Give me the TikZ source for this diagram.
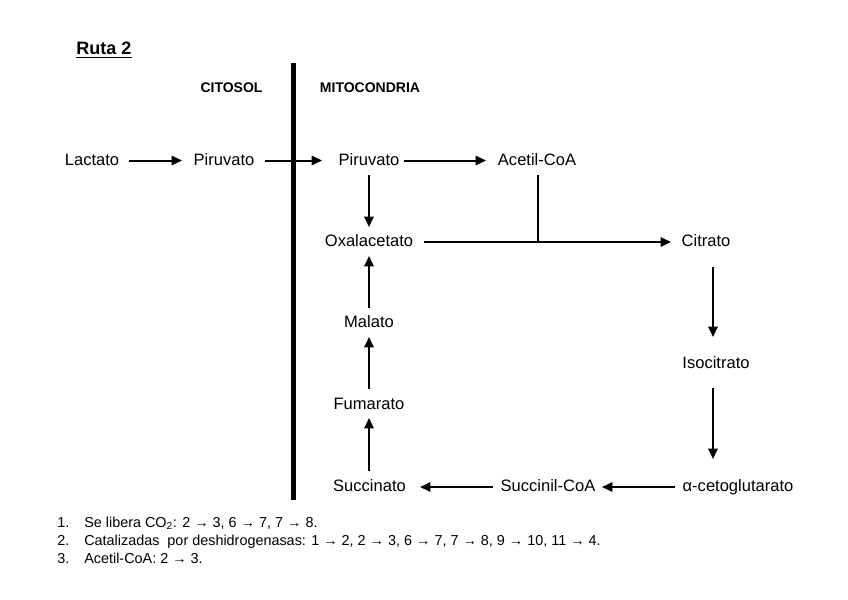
\documentclass[tikz,border=0pt]{standalone}
\usepackage{fontspec}
\setmainfont{Liberation Sans}
\usetikzlibrary{arrows.meta,calc}
\begin{document}
\begin{tikzpicture}[x=0.75pt,y=-0.75pt,
  met/.style={inner sep=0pt,text height=0.716em,text depth=0pt,font=\fontsize{12.4pt}{14pt}\selectfont},
  hdr/.style={inner sep=0pt,text height=0.716em,text depth=0pt,font=\fontsize{10.5pt}{12pt}\selectfont\bfseries},
  foot/.style={inner sep=0pt,anchor=west,text height=0.716em,text depth=0pt,font=\fontsize{10.8pt}{12pt}\selectfont},
  arr/.style={line width=1.5pt,-{Triangle[length=7.8pt,width=7pt]}},
  plain/.style={line width=1.5pt},
  wall/.style={line width=3.8pt}]
\useasboundingbox (0,0) rectangle (848,599);
% title
\node[inner sep=0pt,anchor=base,font=\fontsize{13.5pt}{15pt}\selectfont\bfseries] (title) at (104,55) {\underline{Ruta 2}};
% headers
\node[hdr] (cyt) at (231.5,88) {CITOSOL};
\node[hdr] (mit) at (370,88) {MITOCONDRIA};
% membrane
\coordinate (wt) at (293.5,63);
\coordinate (wb) at (293.5,500);
\draw[wall] (wt) -- (wb);
% metabolites
\node[met] (lac)  at (92,160.5)  {Lactato};
\node[met] (pir1) at (224,160.5) {Piruvato};
\node[met] (pir2) at (369,160.5) {Piruvato};
\node[met] (acet) at (537,160.5) {Acetil-CoA};
\node[met] (oxa)  at (369,242)   {Oxalacetato};
\node[met] (cit)  at (706,242)   {Citrato};
\node[met] (mal)  at (369,323)   {Malato};
\node[met] (iso)  at (716,364)   {Isocitrato};
\node[met] (fum)  at (369,405)   {Fumarato};
\node[met] (succ) at (369.5,487) {Succinato};
\node[met] (scoa) at (548,487)   {Succinil-CoA};
\node[met] (ceto) at (738,487)   {α-cetoglutarato};
\coordinate (j) at (538,242);
% connectors
\draw[arr] ($(lac)+(37,0)$) -- ($(pir1)+(-42,0)$);
\draw[arr] ($(pir1)+(41,0)$) -- ($(pir2)+(-47,0)$);
\draw[arr] ($(pir2)+(35,0)$) -- ($(acet)+(-51,0)$);
\draw[arr] ($(pir2)+(0,14.5)$) -- ($(oxa)+(0,-15)$);
\draw[arr] ($(oxa)+(55,0)$) -- ($(cit)+(-35,0)$);
\draw[plain] ($(acet)+(1,14.5)$) -- (j);
\draw[arr] ($(cit)+(7,25)$) -- ($(iso)+(-3,-27)$);
\draw[arr] ($(iso)+(-3,24)$) -- ($(ceto)+(-25,-28)$);
\draw[arr] ($(ceto)+(-63,0)$) -- ($(scoa)+(54,0)$);
\draw[arr] ($(scoa)+(-55,0)$) -- ($(succ)+(50.5,0)$);
\draw[arr] ($(succ)+(-0.5,-16)$) -- ($(fum)+(0,13)$);
\draw[arr] ($(fum)+(0,-16)$) -- ($(mal)+(0,14)$);
\draw[arr] ($(mal)+(0,-15)$) -- ($(oxa)+(0,14)$);
% footnotes
\node[foot] (n1) at (57,523) {1.};
\node[foot] (f1) at (84,523) {Se libera CO\textsubscript{2}: 2 → 3, 6 → 7, 7 → 8.};
\node[foot] (n2) at (57,541) {2.};
\node[foot] (f2) at (84,541) {Catalizadas\ \ por deshidrogenasas: 1 → 2, 2 → 3, 6 → 7, 7 → 8, 9 → 10, 11 → 4.};
\node[foot] (n3) at (57,559) {3.};
\node[foot] (f3) at (84,559) {Acetil-CoA: 2 → 3.};
\end{tikzpicture}
\end{document}
